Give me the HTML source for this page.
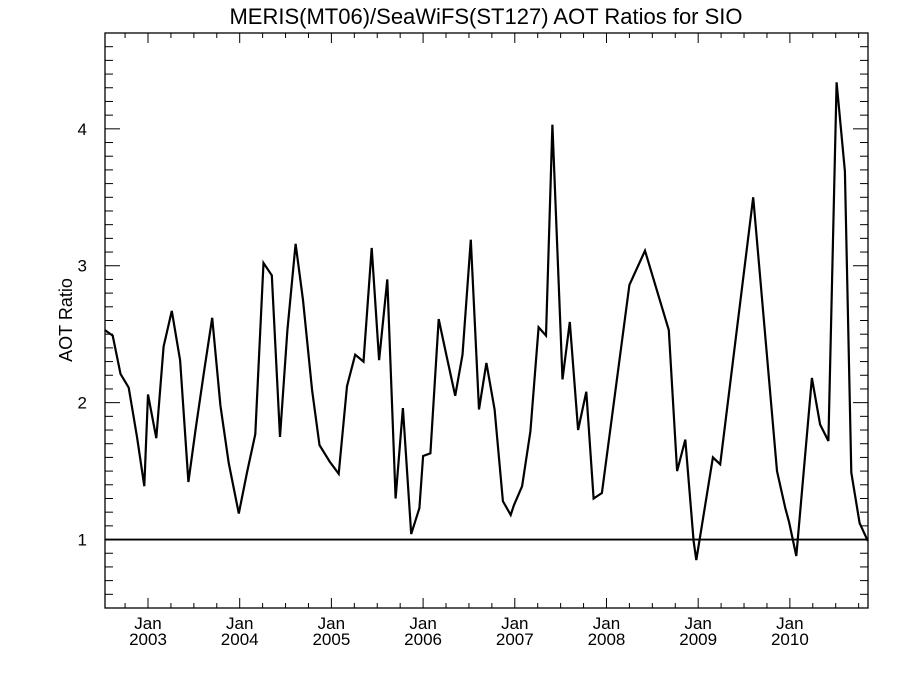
<!DOCTYPE html>
<html><head><meta charset="utf-8"><style>
html,body{margin:0;padding:0;background:#fff}
svg{display:block}
text{font-family:"Liberation Sans",Arial,sans-serif;fill:#000}
</style></head><body>
<svg id="chart" width="900" height="675" viewBox="0 0 900 675" xmlns="http://www.w3.org/2000/svg">
<text x="486" y="24" font-size="22" text-anchor="middle">MERIS(MT06)/SeaWiFS(ST127)  AOT Ratios for SIO</text>
<text x="0" y="0" font-size="18" text-anchor="middle" transform="translate(72,320) rotate(-90)">AOT Ratio</text>
<g id="ticks"></g>
<g id="marks"></g>
<rect x="105" y="33" width="763" height="575" fill="none" stroke="#000" stroke-width="1.3"/>
</svg>
<script>
const dates=[2002.53,2002.615,2002.70,2002.79,2002.88,2002.96,2003.00,2003.09,2003.17,2003.26,2003.35,2003.44,2003.52,2003.61,2003.70,2003.79,2003.88,2003.99,2004.08,2004.17,2004.26,2004.35,2004.44,2004.52,2004.61,2004.69,2004.79,2004.87,2004.98,2005.08,2005.17,2005.26,2005.35,2005.44,2005.52,2005.61,2005.70,2005.78,2005.87,2005.96,2006.00,2006.08,2006.17,2006.26,2006.35,2006.43,2006.52,2006.61,2006.69,2006.78,2006.87,2006.955,2006.99,2007.08,2007.17,2007.26,2007.34,2007.41,2007.52,2007.60,2007.69,2007.78,2007.86,2007.95,2008.25,2008.42,2008.68,2008.77,2008.86,2008.95,2008.98,2009.16,2009.24,2009.60,2009.86,2009.95,2009.99,2010.07,2010.24,2010.33,2010.42,2010.51,2010.60,2010.67,2010.76,2010.85];
const ratios=[2.53,2.49,2.21,2.11,1.75,1.39,2.06,1.74,2.41,2.67,2.31,1.42,1.81,2.22,2.62,1.98,1.56,1.19,1.49,1.77,3.02,2.93,1.75,2.53,3.16,2.75,2.09,1.69,1.57,1.48,2.12,2.35,2.30,3.13,2.31,2.90,1.30,1.96,1.04,1.23,1.61,1.63,2.61,2.33,2.05,2.35,3.19,1.95,2.29,1.95,1.28,1.18,1.25,1.39,1.79,2.55,2.49,4.03,2.17,2.59,1.80,2.08,1.30,1.34,2.86,3.11,2.53,1.50,1.73,0.99,0.85,1.60,1.55,3.50,1.50,1.23,1.13,0.88,2.18,1.84,1.72,4.34,3.69,1.49,1.12,0.99];
const yTicks=[1,2,3,4];
const years=[2003,2004,2005,2006,2007,2008,2009,2010];
const refLine=[1];
const X0=105,X1=868,Y0=608,Y1=33,D0=2002.531,D1=2010.852,V0=0.5,V1=4.7;
const NS='http://www.w3.org/2000/svg';
function xs(d){return X0+(d-D0)/(D1-D0)*(X1-X0);}
function ys(v){return Y0-(v-V0)/(V1-V0)*(Y0-Y1);}
const tg=document.getElementById('ticks'),mg=document.getElementById('marks');
function ln(g,x1,y1,x2,y2,w,name){const l=document.createElementNS(NS,'line');l.setAttribute('x1',x1);l.setAttribute('y1',y1);l.setAttribute('x2',x2);l.setAttribute('y2',y2);l.setAttribute('stroke','#000');l.setAttribute('stroke-width',w);


g.appendChild(l);return l;}
function tx(x,y,s,name){const t=document.createElementNS(NS,'text');t.setAttribute('x',x);t.setAttribute('y',y);t.setAttribute('font-size','17');t.setAttribute('text-anchor','middle');t.textContent=s;


tg.appendChild(t);return t;}
// y minor ticks
for(let k=6;k<=46;k++){const v=k/10;const y=ys(v);const major=(k%10===0);const L=major?15:8;
ln(tg,X0,y,X0+L,y,1,'y-tick');ln(tg,X1,y,X1-L,y,1,'y-tick-right');}
yTicks.forEach(v=>{const t=tx(X0-18,ys(v)+6,String(v),'y-tick-label');t.setAttribute('text-anchor','end');});
// x ticks quarterly
for(let q=2002.75;q<=D1;q+=0.25){const x=xs(q);const major=Math.abs(q-Math.round(q))<1e-6;const L=major?10:5;
ln(tg,x,Y0,x,Y0-L,1,'x-tick');ln(tg,x,Y1,x,Y1+L,1,'x-tick-top');}
years.forEach(yr=>{const x=xs(yr);tx(x,629,'Jan','x-tick-month');tx(x,645,String(yr),'x-tick-year');});
refLine.forEach(v=>{ln(mg,X0,ys(v),X1,ys(v),1.8,'reference-line-1');});
const p=document.createElementNS(NS,'polyline');
p.setAttribute('points',dates.map((d,i)=>xs(d).toFixed(1)+','+ys(ratios[i]).toFixed(1)).join(' '));
p.setAttribute('fill','none');p.setAttribute('stroke','#000');p.setAttribute('stroke-width','2.2');p.setAttribute('stroke-linejoin','miter');


mg.appendChild(p);
</script>
</body></html>
